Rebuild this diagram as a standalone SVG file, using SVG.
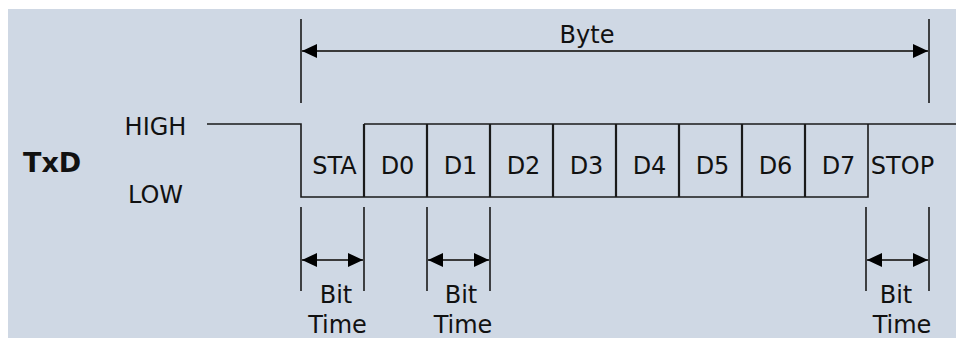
<svg xmlns="http://www.w3.org/2000/svg" width="956" height="338" viewBox="0 0 956 338">
<style>
.t{font-family:"DejaVu Sans","Liberation Sans",sans-serif;font-size:24px;fill:#111;}
.m{text-anchor:middle;}
.b{font-weight:bold;font-size:27px;}
.ln{stroke:#1a1a1a;stroke-width:1.6;fill:none;}
.dv{stroke:#1a1a1a;stroke-width:2.2;fill:none;}
.ar{stroke:#3a3a3a;stroke-width:2;fill:none;}
</style>
<defs>
<marker id="ah" viewBox="0 0 15 14" refX="15" refY="7" markerWidth="15" markerHeight="14" markerUnits="userSpaceOnUse" orient="auto-start-reverse">
<path d="M0,0 L15,7 L0,14 Z" fill="#000"/>
</marker>
</defs>
<rect x="0" y="0" width="956" height="338" fill="#ffffff"/>
<rect x="8" y="9" width="948" height="329" fill="#cfd8e4"/>
<g id="labels">
<text class="t b" x="23" y="172">TxD</text>
<text class="t m" x="155.5" y="135">HIGH</text>
<text class="t m" x="155.5" y="203">LOW</text>
</g>
<g id="signal">
<path class="ln" d="M207,124 H301 V197 H364"/>
<path class="ln" d="M364,124 H956"/>
<path class="ln" d="M364,197 H868 V124"/>
<path class="dv" d="M364,124 V197 M427,124 V197 M490,124 V197 M553,124 V197 M616,124 V197 M679,124 V197 M742,124 V197 M805,124 V197"/>
</g>
<g id="bit-STA"><text class="t m" x="334.5" y="174">STA</text></g>
<g id="bit-D0"><text class="t m" x="397.5" y="174">D0</text></g>
<g id="bit-D1"><text class="t m" x="460.5" y="174">D1</text></g>
<g id="bit-D2"><text class="t m" x="523.5" y="174">D2</text></g>
<g id="bit-D3"><text class="t m" x="586.5" y="174">D3</text></g>
<g id="bit-D4"><text class="t m" x="649.5" y="174">D4</text></g>
<g id="bit-D5"><text class="t m" x="712.5" y="174">D5</text></g>
<g id="bit-D6"><text class="t m" x="775.5" y="174">D6</text></g>
<g id="bit-D7"><text class="t m" x="838.5" y="174">D7</text></g>
<g id="bit-STOP"><text class="t m" x="902.5" y="174">STOP</text></g>
<g id="byte-label"><text class="t m" x="587" y="43">Byte</text></g>
<g id="bittime-1"><text class="t m" x="336" y="303">Bit</text><text class="t m" x="337.5" y="333">Time</text></g>
<g id="bittime-2"><text class="t m" x="461" y="303">Bit</text><text class="t m" x="463" y="333">Time</text></g>
<g id="bittime-3"><text class="t m" x="896" y="303">Bit</text><text class="t m" x="902" y="333">Time</text></g>
<g id="connectors">
<path class="ln" d="M301,19 V103 M929,19 V103"/>
<path class="ar" d="M302,51 H928" marker-start="url(#ah)" marker-end="url(#ah)"/>
<path class="ln" d="M301,207 V291 M364,207 V291"/>
<path class="ar" d="M302,260 H363" marker-start="url(#ah)" marker-end="url(#ah)"/>
<path class="ln" d="M427,207 V291 M490,207 V291"/>
<path class="ar" d="M428,260 H489" marker-start="url(#ah)" marker-end="url(#ah)"/>
<path class="ln" d="M866,207 V291 M929,207 V291"/>
<path class="ar" d="M867,260 H928" marker-start="url(#ah)" marker-end="url(#ah)"/>
</g>
</svg>
